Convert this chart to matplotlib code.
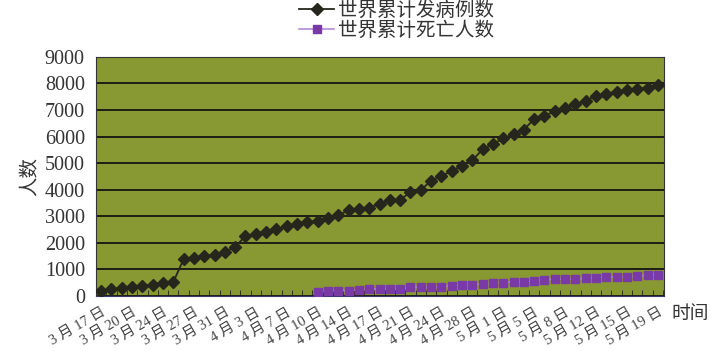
import numpy as np
import matplotlib
matplotlib.use("Agg")
import matplotlib.pyplot as plt

plt.rcParams['font.family'] = ['Liberation Serif', 'Noto Sans CJK SC', 'DejaVu Sans']

# datos
etiquetas = ["3 月 17 日", "3 月 20 日", "3 月 24 日", "3 月 27 日", "3 月 31 日", "4 月 3 日",
             "4 月 7 日", "4 月 10 日", "4 月 14 日", "4 月 17 日", "4 月 21 日", "4 月 24 日",
             "4 月 28 日", "5 月 1 日", "5 月 5 日", "5 月 8 日", "5 月 12 日", "5 月 15 日",
             "5 月 19 日"]
casos = [200, 250, 290, 325, 375, 425, 500, 525, 1380, 1430, 1500, 1540, 1650, 1850,
         2255, 2330, 2390, 2500, 2630, 2700, 2770, 2820, 2945, 3030, 3230, 3280, 3320,
         3460, 3610, 3610, 3920, 3985, 4335, 4510, 4700, 4890, 5110, 5515, 5715, 5930,
         6090, 6265, 6655, 6770, 6965, 7090, 7220, 7340, 7545, 7620, 7680, 7745, 7795,
         7830, 7930]
muertes_inicio = 21
muertes = [160, 175, 200, 200, 225, 265, 265, 270, 275, 325, 325, 350, 350, 375, 415,
           425, 450, 475, 500, 540, 540, 575, 600, 630, 630, 630, 665, 690, 715, 715,
           725, 750, 775, 790]

x_casos = np.arange(len(casos))
x_muertes = np.arange(muertes_inicio, muertes_inicio + len(muertes))

fig = plt.figure(figsize=(7.11, 3.51), dpi=100)
ax = fig.add_axes([0.135, 0.157, 0.799, 0.681])
ax.set_facecolor('#889833')

ax.plot(x_casos, casos, color='#26261c', marker='D', markersize=6.5, linewidth=1.3,
        label='世界累计发病例数', zorder=3)
ax.plot(x_muertes, muertes, color='#b58ad6', marker='s', markersize=6,
        markerfacecolor='#7a3aa6', markeredgecolor='#7a3aa6', linewidth=1.2,
        label='世界累计死亡人数', zorder=3)

ax.set_ylim(0, 9000)
ax.set_yticks(range(0, 9001, 1000))
ax.yaxis.grid(True, color='#1e1e14', linewidth=1.4)
ax.set_axisbelow(True)
ax.tick_params(axis='y', length=0, labelsize=14.5, colors='#333333', pad=8)

ax.set_xlim(-0.4, len(casos) - 0.4)
ax.set_xticks(np.arange(0, len(casos), 3))
ax.set_xticklabels(etiquetas, rotation=30, ha='right', rotation_mode='anchor',
                   fontsize=10.5, color='#444444')
ax.set_xticks(np.arange(-0.5, len(casos)), minor=True)
ax.tick_params(axis='x', which='major', length=0, pad=7)
ax.tick_params(axis='x', which='minor', direction='in', length=4, color='#222222')

for s in ax.spines.values():
    s.set_color('#333333')
ax.spines['bottom'].set_color('#3a3a6a')

ax.set_ylabel('人数', fontsize=14, color='#333333', labelpad=4)
fig.text(0.945, 0.09, '时间', fontsize=13.5, color='#333333')

fig.legend(loc='upper left', bbox_to_anchor=(0.41, 1.02), frameon=False,
           fontsize=14, handlelength=1.8, handletextpad=0.2, labelspacing=0.1,
           borderaxespad=0, labelcolor='#333333')

fig.savefig('out.png', dpi=100)
